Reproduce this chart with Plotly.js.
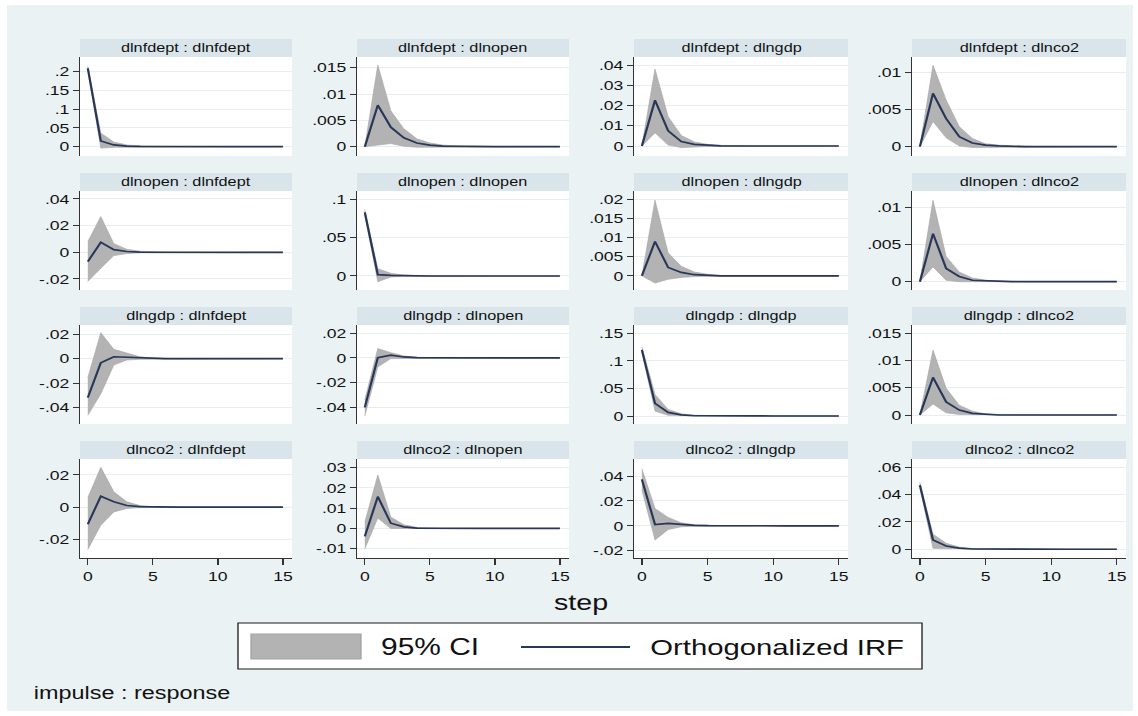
<!DOCTYPE html>
<html>
<head>
<meta charset="utf-8">
<script src="https://cdn.plot.ly/plotly-3.0.1.min.js"></script>
<style>
  html, body { margin: 0; padding: 0; background: #ffffff; overflow: hidden; }
  #wrap { width: 1138px; height: 716px; overflow: hidden; position: relative; }
  #chart { position: absolute; left: 0; top: 0; transform-origin: 0 0; }
</style>
</head>
<body>
<div id="wrap"><div id="chart"></div></div>
<script>
// ---------------- DATA ----------------
const steps = [0, 1, 2, 3, 4, 5, 6, 7, 8, 9, 10, 11, 12, 13, 14, 15];
const impulses = ['dlnfdept', 'dlnopen', 'dlngdp', 'dlnco2'];
const responses = ['dlnfdept', 'dlnopen', 'dlngdp', 'dlnco2'];
const xTicks = [0, 5, 10, 15];
const legendLabels = ['95% CI', 'Orthogonalized IRF'];
const xTitle = 'step';
const noteText = 'impulse : response';

// impulse dlnfdept
const irf_fd_fd = [0.209, 0.015, 0.0045, 0.0013, 0.0004, 0.0001, 0, 0, 0, 0, 0, 0, 0, 0, 0, 0];
const lo_fd_fd  = [0.204, -0.004, -0.002, -0.001, -0.0003, -0.0001, 0, 0, 0, 0, 0, 0, 0, 0, 0, 0];
const hi_fd_fd  = [0.215, 0.036, 0.012, 0.0045, 0.0015, 0.0005, 0.0002, 0.0001, 0, 0, 0, 0, 0, 0, 0, 0];

const irf_fd_op = [0, 0.0079, 0.0037, 0.0017, 0.0007, 0.0003, 0.0001, 0.00005, 0, 0, 0, 0, 0, 0, 0, 0];
const lo_fd_op  = [0, 0.0003, 0.0006, 0.0001, -0.0001, -0.0001, 0, 0, 0, 0, 0, 0, 0, 0, 0, 0];
const hi_fd_op  = [0, 0.0155, 0.0068, 0.0034, 0.0015, 0.0007, 0.0003, 0.0001, 0, 0, 0, 0, 0, 0, 0, 0];

const irf_fd_gd = [0, 0.0226, 0.0075, 0.0022, 0.0008, 0.0003, 0.0001, 0, 0, 0, 0, 0, 0, 0, 0, 0];
const lo_fd_gd  = [0, 0.0065, 0.0005, -0.0008, -0.0005, -0.0002, -0.0001, 0, 0, 0, 0, 0, 0, 0, 0, 0];
const hi_fd_gd  = [0, 0.038, 0.0145, 0.0052, 0.002, 0.0008, 0.0003, 0.0001, 0, 0, 0, 0, 0, 0, 0, 0];

const irf_fd_co = [0, 0.0072, 0.0038, 0.00135, 0.0005, 0.0002, 0.0001, 0, 0, 0, 0, 0, 0, 0, 0, 0];
const lo_fd_co  = [0, 0.0034, 0.0012, 0.0001, -0.0001, -0.0001, 0, 0, 0, 0, 0, 0, 0, 0, 0, 0];
const hi_fd_co  = [0, 0.011, 0.0063, 0.0027, 0.0011, 0.0004, 0.0002, 0.0001, 0, 0, 0, 0, 0, 0, 0, 0];

// impulse dlnopen
const irf_op_fd = [-0.007, 0.0075, 0.002, 0.0006, 0.0002, 0.0001, 0, 0, 0, 0, 0, 0, 0, 0, 0, 0];
const lo_op_fd  = [-0.022, -0.012, -0.0025, -0.001, -0.0004, -0.0001, 0, 0, 0, 0, 0, 0, 0, 0, 0, 0];
const hi_op_fd  = [0.008, 0.0268, 0.0065, 0.0022, 0.0008, 0.0003, 0.0001, 0, 0, 0, 0, 0, 0, 0, 0, 0];

const irf_op_op = [0.0827, 0.0018, 0.0009, 0.0003, 0.0001, 0, 0, 0, 0, 0, 0, 0, 0, 0, 0, 0];
const lo_op_op  = [0.079, -0.0075, -0.0012, -0.0005, -0.0002, 0, 0, 0, 0, 0, 0, 0, 0, 0, 0, 0];
const hi_op_op  = [0.086, 0.0095, 0.0035, 0.0011, 0.0004, 0.0001, 0, 0, 0, 0, 0, 0, 0, 0, 0, 0];

const irf_op_gd = [0, 0.009, 0.0022, 0.0009, 0.0003, 0.0001, 0, 0, 0, 0, 0, 0, 0, 0, 0, 0];
const lo_op_gd  = [0, -0.0019, -0.0009, -0.0004, -0.0002, -0.0001, 0, 0, 0, 0, 0, 0, 0, 0, 0, 0];
const hi_op_gd  = [0, 0.0198, 0.006, 0.0025, 0.001, 0.0004, 0.0001, 0, 0, 0, 0, 0, 0, 0, 0, 0];

const irf_op_co = [0, 0.0065, 0.0018, 0.0007, 0.0002, 0.0001, 0, 0, 0, 0, 0, 0, 0, 0, 0, 0];
const lo_op_co  = [0, 0.002, 0.0002, 0, -0.0001, 0, 0, 0, 0, 0, 0, 0, 0, 0, 0, 0];
const hi_op_co  = [0, 0.011, 0.0034, 0.0013, 0.0005, 0.0002, 0.0001, 0, 0, 0, 0, 0, 0, 0, 0, 0];

// impulse dlngdp
const irf_gd_fd = [-0.032, -0.0033, 0.0016, 0.0011, 0.0004, 0.0001, 0, 0, 0, 0, 0, 0, 0, 0, 0, 0];
const lo_gd_fd  = [-0.0466, -0.0288, -0.0052, -0.0011, -0.0005, -0.0002, 0, 0, 0, 0, 0, 0, 0, 0, 0, 0];
const hi_gd_fd  = [-0.0156, 0.0214, 0.0077, 0.0044, 0.0015, 0.0005, 0.0001, 0, 0, 0, 0, 0, 0, 0, 0, 0];

const irf_gd_op = [-0.040, 0.0003, 0.0022, 0.0008, 0.0002, 0.0001, 0, 0, 0, 0, 0, 0, 0, 0, 0, 0];
const lo_gd_op  = [-0.047, -0.0073, -0.0005, 0, -0.0001, 0, 0, 0, 0, 0, 0, 0, 0, 0, 0, 0];
const hi_gd_op  = [-0.034, 0.0076, 0.0043, 0.0016, 0.0005, 0.0002, 0, 0, 0, 0, 0, 0, 0, 0, 0, 0];

const irf_gd_gd = [0.120, 0.0229, 0.0066, 0.002, 0.0005, 0.0002, 0, 0, 0, 0, 0, 0, 0, 0, 0, 0];
const lo_gd_gd  = [0.116, 0.009, 0.0012, 0, -0.0001, 0, 0, 0, 0, 0, 0, 0, 0, 0, 0, 0];
const hi_gd_gd  = [0.125, 0.039, 0.012, 0.004, 0.0012, 0.0004, 0.0001, 0, 0, 0, 0, 0, 0, 0, 0, 0];

const irf_gd_co = [0, 0.0069, 0.0024, 0.0009, 0.0003, 0.0001, 0, 0, 0, 0, 0, 0, 0, 0, 0, 0];
const lo_gd_co  = [0, 0.002, 0.0004, 0.0001, 0, 0, 0, 0, 0, 0, 0, 0, 0, 0, 0, 0];
const hi_gd_co  = [0, 0.0119, 0.0049, 0.0018, 0.0007, 0.0002, 0.0001, 0, 0, 0, 0, 0, 0, 0, 0, 0];

// impulse dlnco2
const irf_co_fd = [-0.0106, 0.0068, 0.0033, 0.001, 0.0003, 0.0001, 0, 0, 0, 0, 0, 0, 0, 0, 0, 0];
const lo_co_fd  = [-0.0263, -0.0112, -0.003, -0.0008, -0.0003, -0.0001, 0, 0, 0, 0, 0, 0, 0, 0, 0, 0];
const hi_co_fd  = [0.0058, 0.0247, 0.0095, 0.0033, 0.001, 0.0003, 0.0001, 0, 0, 0, 0, 0, 0, 0, 0, 0];

const irf_co_op = [-0.0039, 0.0157, 0.0026, 0.0008, 0.0002, 0.0001, 0, 0, 0, 0, 0, 0, 0, 0, 0, 0];
const lo_co_op  = [-0.010, 0.0051, 0, -0.0001, -0.0001, 0, 0, 0, 0, 0, 0, 0, 0, 0, 0, 0];
const hi_co_op  = [0.003, 0.0264, 0.0056, 0.0018, 0.0005, 0.0002, 0, 0, 0, 0, 0, 0, 0, 0, 0, 0];

const irf_co_gd = [0.0373, 0.001, 0.0019, 0.0008, 0.0003, 0.0001, 0, 0, 0, 0, 0, 0, 0, 0, 0, 0];
const lo_co_gd  = [0.029, -0.0115, -0.003, -0.0008, -0.0003, -0.0001, 0, 0, 0, 0, 0, 0, 0, 0, 0, 0];
const hi_co_gd  = [0.0459, 0.0139, 0.0067, 0.0024, 0.0009, 0.0003, 0.0001, 0, 0, 0, 0, 0, 0, 0, 0, 0];

const irf_co_co = [0.047, 0.0068, 0.0024, 0.0008, 0.0002, 0.0001, 0, 0, 0, 0, 0, 0, 0, 0, 0, 0];
const lo_co_co  = [0.045, 0.0007, 0.0005, 0.0001, 0, 0, 0, 0, 0, 0, 0, 0, 0, 0, 0, 0];
const hi_co_co  = [0.049, 0.011, 0.0044, 0.0015, 0.0005, 0.0002, 0.0001, 0, 0, 0, 0, 0, 0, 0, 0, 0];

// y-axis tick values per panel (row = impulse, col = response)
const ticks_fd_fd = [0, 0.05, 0.1, 0.15, 0.2];
const ticks_fd_op = [0, 0.005, 0.01, 0.015];
const ticks_fd_gd = [0, 0.01, 0.02, 0.03, 0.04];
const ticks_fd_co = [0, 0.005, 0.01];
const ticks_op_fd = [-0.02, 0, 0.02, 0.04];
const ticks_op_op = [0, 0.05, 0.1];
const ticks_op_gd = [0, 0.005, 0.01, 0.015, 0.02];
const ticks_op_co = [0, 0.005, 0.01];
const ticks_gd_fd = [-0.04, -0.02, 0, 0.02];
const ticks_gd_op = [-0.04, -0.02, 0, 0.02];
const ticks_gd_gd = [0, 0.05, 0.1, 0.15];
const ticks_gd_co = [0, 0.005, 0.01, 0.015];
const ticks_co_fd = [-0.02, 0, 0.02];
const ticks_co_op = [-0.01, 0, 0.01, 0.02, 0.03];
const ticks_co_gd = [-0.02, 0, 0.02, 0.04];
const ticks_co_co = [0, 0.02, 0.04, 0.06];

// ---------------- BUILD ----------------
const panelData = [
  [irf_fd_fd, lo_fd_fd, hi_fd_fd, ticks_fd_fd], [irf_fd_op, lo_fd_op, hi_fd_op, ticks_fd_op],
  [irf_fd_gd, lo_fd_gd, hi_fd_gd, ticks_fd_gd], [irf_fd_co, lo_fd_co, hi_fd_co, ticks_fd_co],
  [irf_op_fd, lo_op_fd, hi_op_fd, ticks_op_fd], [irf_op_op, lo_op_op, hi_op_op, ticks_op_op],
  [irf_op_gd, lo_op_gd, hi_op_gd, ticks_op_gd], [irf_op_co, lo_op_co, hi_op_co, ticks_op_co],
  [irf_gd_fd, lo_gd_fd, hi_gd_fd, ticks_gd_fd], [irf_gd_op, lo_gd_op, hi_gd_op, ticks_gd_op],
  [irf_gd_gd, lo_gd_gd, hi_gd_gd, ticks_gd_gd], [irf_gd_co, lo_gd_co, hi_gd_co, ticks_gd_co],
  [irf_co_fd, lo_co_fd, hi_co_fd, ticks_co_fd], [irf_co_op, lo_co_op, hi_co_op, ticks_co_op],
  [irf_co_gd, lo_co_gd, hi_co_gd, ticks_co_gd], [irf_co_co, lo_co_co, hi_co_co, ticks_co_co]
];
// axis ranges (layout)
const yRanges = [
  [-0.025, 0.239], [-0.00177, 0.01703], [-0.00494, 0.04395], [-0.00126, 0.01212],
  [-0.0283, 0.046], [-0.0182, 0.1104], [-0.0037, 0.0222], [-0.00112, 0.01226],
  [-0.0537, 0.0277], [-0.0535, 0.0267], [-0.0145, 0.165], [-0.00165, 0.0165],
  [-0.0316, 0.0299], [-0.0146, 0.0343], [-0.0259, 0.0537], [-0.0064, 0.0661]
];

const W = 1138, H = 716;
const S = 1.3;                       // horizontal stretch of the reference
const NW = Math.round(W / S);
const SX = W / NW;
const colX = [[80, 292], [357, 569], [634, 848], [912, 1126]];
const rowY = [[57, 156], [191, 290], [325, 424], [459, 558]];
const stripH = 18;
const FONT = 'Liberation Sans, Arial, Helvetica, sans-serif';
const lineColor = '#283658';
const bandColor = '#b3b3b3';
const axisColor = '#333333';
const txtColor = '#111111';
const px = v => v / W;
const py = v => 1 - v / H;
const fmt = v => {
  if (v === 0) return '0';
  let s = String(+v.toFixed(6));
  return s.replace(/^(-?)0\./, '$1.');
};

const traces = [];
const layout = {
  width: NW, height: H,
  margin: {l: 0, r: 0, t: 0, b: 0},
  paper_bgcolor: '#eaf2f3',
  plot_bgcolor: '#ffffff',
  showlegend: false,
  font: {family: FONT, color: txtColor},
  shapes: [], annotations: []
};

for (let r = 0; r < 4; r++) {
  for (let c = 0; c < 4; c++) {
    const k = r * 4 + c, n = k + 1;
    const [irf, lo, hi, ticks] = panelData[k];
    const xa = 'x' + (n === 1 ? '' : n), ya = 'y' + (n === 1 ? '' : n);
    const bottom = (r === 3);
    // CI band
    traces.push({
      type: 'scatter', mode: 'lines', xaxis: xa, yaxis: ya,
      x: steps.concat(steps.slice().reverse()),
      y: hi.concat(lo.slice().reverse()),
      fill: 'toself', fillcolor: bandColor,
      line: {color: '#a9a9a9', width: 0.6}, hoverinfo: 'skip'
    });
    // IRF line
    traces.push({
      type: 'scatter', mode: 'lines', xaxis: xa, yaxis: ya,
      x: steps, y: irf, line: {color: lineColor, width: 1.7}, hoverinfo: 'skip'
    });
    layout['xaxis' + (n === 1 ? '' : n)] = {
      domain: [px(colX[c][0]), px(colX[c][1])], anchor: ya,
      range: [-0.6, 15.7], showgrid: false, zeroline: false,
      showline: bottom, linecolor: axisColor, linewidth: 1,
      ticks: bottom ? 'outside' : '', ticklen: 5.5, tickcolor: axisColor, tickwidth: 1,
      tickmode: 'array', tickvals: xTicks, ticktext: xTicks.map(String),
      showticklabels: bottom, tickfont: {family: FONT, size: 13.5, color: txtColor},
      fixedrange: true
    };
    layout['yaxis' + (n === 1 ? '' : n)] = {
      domain: [py(rowY[r][1]), py(rowY[r][0])], anchor: xa,
      range: yRanges[k], showgrid: true, gridcolor: '#e6eef1', gridwidth: 1,
      zeroline: false, showline: true, linecolor: axisColor, linewidth: 1,
      ticks: 'outside', ticklen: 4.5, tickcolor: axisColor, tickwidth: 1,
      tickmode: 'array', tickvals: ticks, ticktext: ticks.map(fmt),
      tickfont: {family: FONT, size: 13.5, color: txtColor}, fixedrange: true
    };
    // strip
    layout.shapes.push({
      type: 'rect', xref: 'paper', yref: 'paper', layer: 'below',
      x0: px(colX[c][0]), x1: px(colX[c][1]),
      y0: py(rowY[r][0]), y1: py(rowY[r][0] - stripH),
      fillcolor: '#d9e5ea', line: {width: 0}
    });
    layout.annotations.push({
      xref: 'paper', yref: 'paper', showarrow: false,
      x: px((colX[c][0] + colX[c][1]) / 2), y: py(rowY[r][0] - stripH / 2),
      xanchor: 'center', yanchor: 'middle',
      text: impulses[r] + ' : ' + responses[c],
      font: {family: FONT, size: 12.5, color: txtColor}
    });
  }
}

// outer white frame
[[0, 0, W, 5], [0, 0, 7, H], [W - 5, 0, W, H], [0, H - 5, W, H]].forEach(b => {
  layout.shapes.push({type: 'rect', xref: 'paper', yref: 'paper', layer: 'below',
    x0: px(b[0]), x1: px(b[2]), y0: py(b[3]), y1: py(b[1]),
    fillcolor: '#ffffff', line: {width: 0}});
});

// x title
layout.annotations.push({xref: 'paper', yref: 'paper', showarrow: false,
  x: px(581), y: py(602), xanchor: 'center', yanchor: 'middle',
  text: xTitle, font: {family: FONT, size: 22, color: txtColor}});

// legend (drawn manually, Stata style)
layout.shapes.push({type: 'rect', xref: 'paper', yref: 'paper', layer: 'above',
  x0: px(238), x1: px(922), y0: py(669), y1: py(623),
  fillcolor: '#ffffff', line: {color: '#1a1a1a', width: 1}});
layout.shapes.push({type: 'rect', xref: 'paper', yref: 'paper', layer: 'above',
  x0: px(251), x1: px(361), y0: py(659), y1: py(634),
  fillcolor: bandColor, line: {color: '#a3a3a3', width: 1}});
layout.shapes.push({type: 'line', xref: 'paper', yref: 'paper', layer: 'above',
  x0: px(521), x1: px(630), y0: py(647), y1: py(647),
  line: {color: lineColor, width: 2}});
layout.annotations.push({xref: 'paper', yref: 'paper', showarrow: false,
  x: px(378), y: py(647), xanchor: 'left', yanchor: 'middle',
  text: legendLabels[0], font: {family: FONT, size: 23, color: txtColor}});
layout.annotations.push({xref: 'paper', yref: 'paper', showarrow: false,
  x: px(648), y: py(647), xanchor: 'left', yanchor: 'middle',
  text: legendLabels[1], font: {family: FONT, size: 22.5, color: txtColor}});

// note
layout.annotations.push({xref: 'paper', yref: 'paper', showarrow: false,
  x: px(31), y: py(693), xanchor: 'left', yanchor: 'middle',
  text: noteText, font: {family: FONT, size: 18, color: txtColor}});

const el = document.getElementById('chart');
el.style.width = NW + 'px';
el.style.height = H + 'px';
el.style.transform = 'scaleX(' + SX + ')';
Plotly.newPlot(el, traces, layout, {staticPlot: true, displayModeBar: false, responsive: false});
</script>
</body>
</html>
